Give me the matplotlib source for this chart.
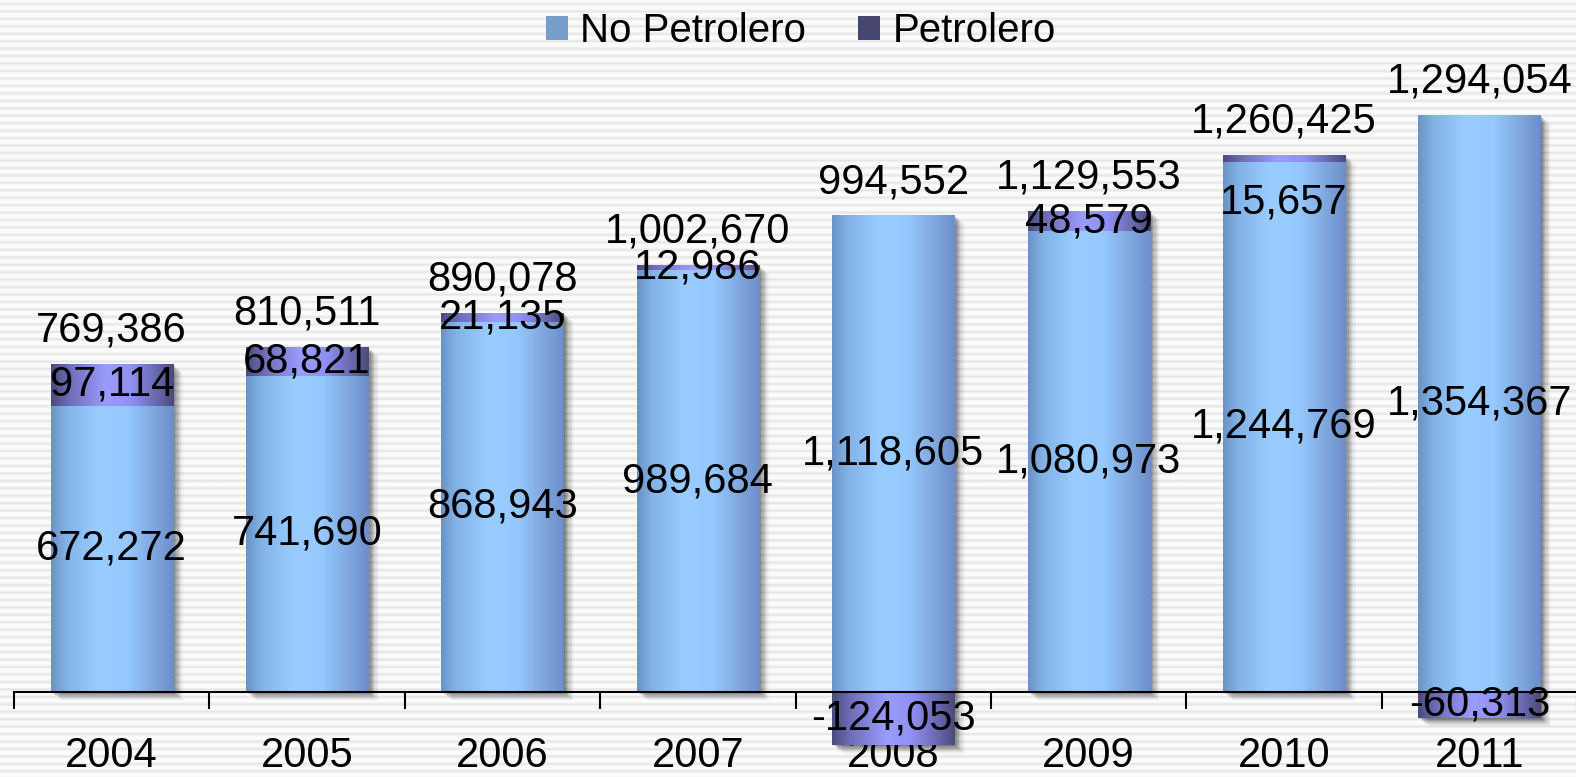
#!/usr/bin/env python3
# Balanza comercial: No Petrolero vs Petrolero, 2004-2011

import numpy as np
import matplotlib
matplotlib.use("Agg")
import matplotlib.pyplot as plt
import matplotlib.transforms as mtransforms
from matplotlib.colors import LinearSegmentedColormap
from matplotlib.patches import Rectangle, Patch

plt.rcParams['font.family'] = ['Liberation Sans', 'DejaVu Sans']

# ---- data ------------------------------------------------------------
years = ['2004', '2005', '2006', '2007', '2008', '2009', '2010', '2011']
no_petrolero = [672272, 741690, 868943, 989684, 1118605, 1080973, 1244769, 1354367]
petrolero = [97114, 68821, 21135, 12986, -124053, 48579, 15657, -60313]
totals = [769386, 810511, 890078, 1002670, 994552, 1129553, 1260425, 1294054]

# label nudges (points) for the petrolero values
petro_label_dy = [0, 0, 0, 0, 0, 0, -32, 0]

# ---- styles ----------------------------------------------------------
blue_cmap = LinearSegmentedColormap.from_list(
    'blue_bar', [(0.0, '#6a92c6'), (0.12, '#82b2e6'), (0.38, '#99ccff'),
                 (0.62, '#95c8fd'), (0.85, '#7ea5dc'), (1.0, '#6d8ecb')])
purple_cmap = LinearSegmentedColormap.from_list(
    'purple_bar', [(0.0, '#4a4a7c'), (0.15, '#6e6eb8'), (0.45, '#9c9cff'),
                   (0.65, '#9090f4'), (0.88, '#6464a8'), (1.0, '#4a4a78')])
legend_blue = '#789fcc'
legend_purple = '#45456f'

W, H, DPI = 1576, 777, 100
fig = plt.figure(figsize=(W / DPI, H / DPI), dpi=DPI)

# striped background
bg = fig.add_axes([0, 0, 1, 1], zorder=-5)
rows = np.arange(H * 2) / 2.0
phase = (rows % 7.45) / 7.45
stripe = 0.985 - 0.09 * np.exp(-((phase - 0.5) ** 2) / 0.03)
bg.imshow(np.tile(stripe[:, None], (1, 4)), cmap='gray', vmin=0, vmax=1,
          aspect='auto', extent=[0, 1, 0, 1], interpolation='bilinear')
bg.set_axis_off()

ax = fig.add_axes([14 / W, 0, 1563 / W, 1])
ax.patch.set_alpha(0)

x = np.arange(len(years))
width = 0.625
no_p = np.array(no_petrolero)
pet = np.array(petrolero)
pet_bottom = np.where(pet > 0, no_p, 0)

grad = np.linspace(0, 1, 256)[None, :]


def gradient_bars(rects, cmap, z):
    for r in rects:
        x0, y0 = r.get_x(), r.get_y()
        w, h = r.get_width(), r.get_height()
        if h == 0:
            continue
        im = ax.imshow(grad, cmap=cmap, aspect='auto', zorder=z,
                       extent=[x0, x0 + w, min(y0, y0 + h), max(y0, y0 + h)],
                       interpolation='bilinear')
        im.set_clip_path(r)


# soft shadow to the right/below of each bar
stack_top = np.maximum(no_p, no_p + pet)
stack_bot = np.minimum(0, pet)
for i in range(len(years)):
    for k, a in zip(range(1, 10), np.linspace(0.12, 0.02, 9)):
        tr = mtransforms.offset_copy(ax.transData, fig=fig, x=k * 1.2, y=-k * 1.0, units='dots')
        ax.add_patch(Rectangle((x[i] - width / 2, stack_bot[i]), width,
                               stack_top[i] - stack_bot[i], transform=tr,
                               facecolor='black', alpha=a, lw=0, zorder=1))

b1 = ax.bar(x, no_p, width, color='none', edgecolor='none', zorder=2)
b2 = ax.bar(x, pet, width, bottom=pet_bottom, color='none', edgecolor='none', zorder=2)
gradient_bars(b1, blue_cmap, 2)
gradient_bars(b2, purple_cmap, 2)

ax.set_xlim(-0.5, len(years) - 0.5)
ax.set_ylim(-85 * 2347, 692 * 2347)

# ---- labels ----------------------------------------------------------
fs = 30
for i in range(len(years)):
    ax.text(x[i], no_p[i] / 2, f'{no_p[i]:,}', ha='center', va='center', fontsize=fs, zorder=5)
    ax.annotate(f'{pet[i]:,}', (x[i], pet_bottom[i] + pet[i] / 2), xytext=(0, petro_label_dy[i]),
                textcoords='offset points', ha='center', va='center', fontsize=fs, zorder=5)
    ax.annotate(f'{totals[i]:,}', (x[i], stack_top[i]), xytext=(0, 24),
                textcoords='offset points', ha='center', va='center', fontsize=fs, zorder=5)

# ---- axes ------------------------------------------------------------
for s in ['left', 'right', 'top']:
    ax.spines[s].set_visible(False)
ax.spines['bottom'].set_position(('data', 0))
ax.spines['bottom'].set_linewidth(1.5)
ax.spines['bottom'].set_zorder(4)
ax.set_yticks([])
ax.set_xticks(np.arange(len(years) + 1) - 0.5)
ax.set_xticklabels([])
ax.tick_params(axis='x', which='major', direction='out', length=12, width=1.5)
ax.set_xticks(x, minor=True)
ax.set_xticklabels(years, minor=True, fontsize=fs)
ax.tick_params(axis='x', which='minor', length=0, pad=32)

handles = [Patch(facecolor=legend_blue, label='No Petrolero'),
           Patch(facecolor=legend_purple, label='Petrolero')]
fig.legend(handles=handles, loc='upper center', bbox_to_anchor=(0.508, 1.01), ncol=2,
           frameon=False, fontsize=29, handlelength=0.55, handleheight=0.55,
           handletextpad=0.3, columnspacing=1.3, borderaxespad=0.1)

fig.savefig('out.png', dpi=DPI)
